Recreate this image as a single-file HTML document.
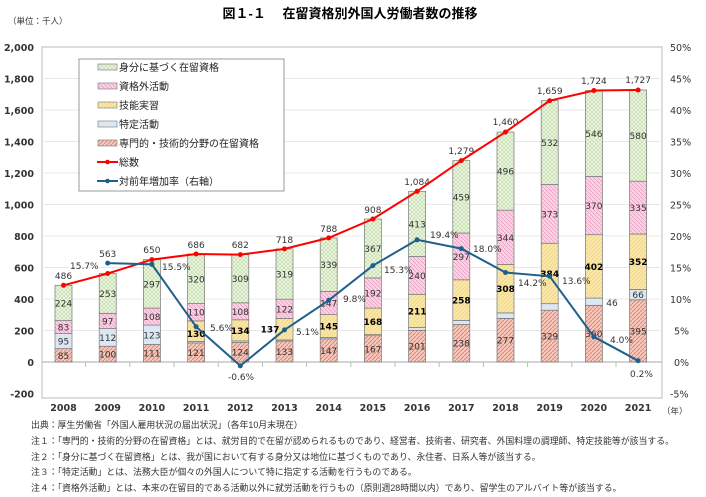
<!DOCTYPE html>
<html><head><meta charset="utf-8"><style>
body{margin:0;background:#fff}
svg{display:block;font-family:"DejaVu Sans","Liberation Sans","Noto Sans CJK JP",sans-serif}
.jp{font-family:"Liberation Sans","Noto Sans CJK JP",sans-serif}
.dl{font-size:9px;fill:#333;text-anchor:middle}
.db{font-size:9px;fill:#000;text-anchor:middle;font-weight:bold}
.tl{font-size:9px;fill:#333;text-anchor:middle}
</style></head><body>
<svg width="706" height="497" viewBox="0 0 706 497" xmlns="http://www.w3.org/2000/svg">
<defs>
<pattern id="pA" width="4" height="4" patternUnits="userSpaceOnUse"><rect width="4" height="4" fill="#f6c7bb"/><path d="M0,4L4,0" stroke="#e57a6a" stroke-width="0.8"/></pattern>
<pattern id="pB" width="4" height="4" patternUnits="userSpaceOnUse"><rect width="4" height="4" fill="#dbe7f3"/></pattern>
<pattern id="pC" width="4" height="4" patternUnits="userSpaceOnUse"><rect width="4" height="4" fill="#fbe6a6"/><path d="M0,4L4,0" stroke="#f2cf6a" stroke-width="0.6"/></pattern>
<pattern id="pD" width="4" height="4" patternUnits="userSpaceOnUse"><rect width="4" height="4" fill="#f8d3e3"/><path d="M0,0L4,4" stroke="#e79ac0" stroke-width="0.7"/></pattern>
<pattern id="pE" width="4" height="4" patternUnits="userSpaceOnUse"><rect width="4" height="4" fill="#eef6e4"/><path d="M0,0L4,4M0,4L4,0" stroke="#b9d8a0" stroke-width="0.6"/></pattern>
</defs>
<text x="350" y="18" class="jp" font-size="13" font-weight="bold" text-anchor="middle" fill="#000">図１-１　 在留資格別外国人労働者数の推移</text>
<text x="8" y="24" class="jp" font-size="8.5" fill="#333">（単位：千人）</text>
<rect x="42" y="47" width="620" height="351" fill="none" stroke="#bbb" stroke-width="1"/>
<g stroke="#e8e8e8" stroke-width="1">
<line x1="42" x2="662" y1="78.5" y2="78.5"/><line x1="42" x2="662" y1="110" y2="110"/><line x1="42" x2="662" y1="141.5" y2="141.5"/><line x1="42" x2="662" y1="173" y2="173"/><line x1="42" x2="662" y1="204.5" y2="204.5"/><line x1="42" x2="662" y1="236" y2="236"/><line x1="42" x2="662" y1="267.5" y2="267.5"/><line x1="42" x2="662" y1="299" y2="299"/><line x1="42" x2="662" y1="330.5" y2="330.5"/>
</g>
<line x1="42" x2="662" y1="362" y2="362" stroke="#aaa"/>
<g stroke="#bbb"><line x1="85.6" x2="85.6" y1="362" y2="367"/><line x1="129.8" x2="129.8" y1="362" y2="367"/><line x1="174" x2="174" y1="362" y2="367"/><line x1="218.2" x2="218.2" y1="362" y2="367"/><line x1="262.4" x2="262.4" y1="362" y2="367"/><line x1="306.6" x2="306.6" y1="362" y2="367"/><line x1="350.8" x2="350.8" y1="362" y2="367"/><line x1="395" x2="395" y1="362" y2="367"/><line x1="439.2" x2="439.2" y1="362" y2="367"/><line x1="483.4" x2="483.4" y1="362" y2="367"/><line x1="527.6" x2="527.6" y1="362" y2="367"/><line x1="571.8" x2="571.8" y1="362" y2="367"/><line x1="616" x2="616" y1="362" y2="367"/></g>
<g font-size="9.5" font-weight="bold" fill="#333" text-anchor="end">
<text x="34" y="51">2,000</text><text x="34" y="82.5">1,800</text><text x="34" y="114">1,600</text><text x="34" y="145.5">1,400</text><text x="34" y="177">1,200</text><text x="34" y="208.5">1,000</text><text x="34" y="240">800</text><text x="34" y="271.5">600</text><text x="34" y="303">400</text><text x="34" y="334.5">200</text><text x="34" y="366">0</text><text x="34" y="397.5">-200</text>
</g>
<g font-size="9.5" fill="#333">
<text x="670" y="51">50%</text><text x="670" y="82.5">45%</text><text x="670" y="114">40%</text><text x="670" y="145.5">35%</text><text x="670" y="177">30%</text><text x="670" y="208.5">25%</text><text x="670" y="240">20%</text><text x="670" y="271.5">15%</text><text x="670" y="303">10%</text><text x="674" y="334.5">5%</text><text x="674" y="366">0%</text><text x="670" y="397.5">-5%</text>
</g>
<g font-size="9.5" font-weight="bold" fill="#333" text-anchor="middle">
<text x="63.5" y="411">2008</text><text x="107.7" y="411">2009</text><text x="151.9" y="411">2010</text><text x="196.1" y="411">2011</text><text x="240.3" y="411">2012</text><text x="284.5" y="411">2013</text><text x="328.7" y="411">2014</text><text x="372.9" y="411">2015</text><text x="417.1" y="411">2016</text><text x="461.3" y="411">2017</text><text x="505.5" y="411">2018</text><text x="549.7" y="411">2019</text><text x="593.9" y="411">2020</text><text x="638.1" y="411">2021</text>
</g>
<text x="662" y="414" class="jp" font-size="8.5" fill="#333">（年）</text>
<g stroke="#777" stroke-width="0.7">
<rect x="55" y="348.6" width="17" height="13.4" fill="url(#pA)"/><rect x="55" y="333.65" width="17" height="14.95" fill="url(#pB)"/><rect x="55" y="320.6" width="17" height="13.05" fill="url(#pD)"/><rect x="55" y="285.3" width="17" height="35.3" fill="url(#pE)"/>
<rect x="99.2" y="346.25" width="17" height="15.75" fill="url(#pA)"/><rect x="99.2" y="328.6" width="17" height="17.65" fill="url(#pB)"/><rect x="99.2" y="313.3" width="17" height="15.3" fill="url(#pD)"/><rect x="99.2" y="273.5" width="17" height="39.8" fill="url(#pE)"/>
<rect x="143.4" y="344.5" width="17" height="17.5" fill="url(#pA)"/><rect x="143.4" y="325.1" width="17" height="19.4" fill="url(#pB)"/><rect x="143.4" y="308.1" width="17" height="17" fill="url(#pD)"/><rect x="143.4" y="259.6" width="17" height="48.5" fill="url(#pE)"/>
<rect x="187.6" y="342.9" width="17" height="19.1" fill="url(#pA)"/><rect x="187.6" y="341.4" width="17" height="1.5" fill="url(#pB)"/><rect x="187.6" y="320.9" width="17" height="20.5" fill="url(#pC)"/><rect x="187.6" y="303.6" width="17" height="17.3" fill="url(#pD)"/><rect x="187.6" y="253.95" width="17" height="49.65" fill="url(#pE)"/>
<rect x="231.8" y="342.5" width="17" height="19.5" fill="url(#pA)"/><rect x="231.8" y="340.9" width="17" height="1.6" fill="url(#pB)"/><rect x="231.8" y="319.8" width="17" height="21.1" fill="url(#pC)"/><rect x="231.8" y="302.8" width="17" height="17" fill="url(#pD)"/><rect x="231.8" y="254.6" width="17" height="48.2" fill="url(#pE)"/>
<rect x="276" y="341.05" width="17" height="20.95" fill="url(#pA)"/><rect x="276" y="339.95" width="17" height="1.1" fill="url(#pB)"/><rect x="276" y="318.4" width="17" height="21.55" fill="url(#pC)"/><rect x="276" y="299.2" width="17" height="19.2" fill="url(#pD)"/><rect x="276" y="248.9" width="17" height="50.3" fill="url(#pE)"/>
<rect x="320.2" y="338.85" width="17" height="23.15" fill="url(#pA)"/><rect x="320.2" y="337.4" width="17" height="1.45" fill="url(#pB)"/><rect x="320.2" y="314.6" width="17" height="22.8" fill="url(#pC)"/><rect x="320.2" y="291.4" width="17" height="23.2" fill="url(#pD)"/><rect x="320.2" y="237.9" width="17" height="53.5" fill="url(#pE)"/>
<rect x="364.4" y="335.7" width="17" height="26.3" fill="url(#pA)"/><rect x="364.4" y="334.6" width="17" height="1.1" fill="url(#pB)"/><rect x="364.4" y="308.1" width="17" height="26.5" fill="url(#pC)"/><rect x="364.4" y="277.9" width="17" height="30.2" fill="url(#pD)"/><rect x="364.4" y="219" width="17" height="58.9" fill="url(#pE)"/>
<rect x="408.6" y="330.3" width="17" height="31.7" fill="url(#pA)"/><rect x="408.6" y="327.5" width="17" height="2.8" fill="url(#pB)"/><rect x="408.6" y="294.3" width="17" height="33.2" fill="url(#pC)"/><rect x="408.6" y="256.5" width="17" height="37.8" fill="url(#pD)"/><rect x="408.6" y="191.3" width="17" height="65.2" fill="url(#pE)"/>
<rect x="452.8" y="324.5" width="17" height="37.5" fill="url(#pA)"/><rect x="452.8" y="320.4" width="17" height="4.1" fill="url(#pB)"/><rect x="452.8" y="279.8" width="17" height="40.6" fill="url(#pC)"/><rect x="452.8" y="233" width="17" height="46.8" fill="url(#pD)"/><rect x="452.8" y="160.6" width="17" height="72.4" fill="url(#pE)"/>
<rect x="497" y="318.4" width="17" height="43.6" fill="url(#pA)"/><rect x="497" y="312.9" width="17" height="5.5" fill="url(#pB)"/><rect x="497" y="264.35" width="17" height="48.55" fill="url(#pC)"/><rect x="497" y="210.2" width="17" height="54.15" fill="url(#pD)"/><rect x="497" y="132.05" width="17" height="78.15" fill="url(#pE)"/>
<rect x="541.2" y="310.2" width="17" height="51.8" fill="url(#pA)"/><rect x="541.2" y="303.7" width="17" height="6.5" fill="url(#pB)"/><rect x="541.2" y="243.25" width="17" height="60.45" fill="url(#pC)"/><rect x="541.2" y="184.5" width="17" height="58.75" fill="url(#pD)"/><rect x="541.2" y="100.7" width="17" height="83.8" fill="url(#pE)"/>
<rect x="585.4" y="305.3" width="17" height="56.7" fill="url(#pA)"/><rect x="585.4" y="298.05" width="17" height="7.25" fill="url(#pB)"/><rect x="585.4" y="234.7" width="17" height="63.35" fill="url(#pC)"/><rect x="585.4" y="176.5" width="17" height="58.2" fill="url(#pD)"/><rect x="585.4" y="90.5" width="17" height="86" fill="url(#pE)"/>
<rect x="629.6" y="299.8" width="17" height="62.2" fill="url(#pA)"/><rect x="629.6" y="289.4" width="17" height="10.4" fill="url(#pB)"/><rect x="629.6" y="234" width="17" height="55.4" fill="url(#pC)"/><rect x="629.6" y="181.2" width="17" height="52.8" fill="url(#pD)"/><rect x="629.6" y="90" width="17" height="91.2" fill="url(#pE)"/>
</g>
<g class="dl">
<text x="63.5" y="358.8">85</text><text x="63.5" y="344.6">95</text><text x="63.5" y="330.6">83</text><text x="63.5" y="306.5">224</text>
<text x="107.7" y="357.6">100</text><text x="107.7" y="340.9">112</text><text x="107.7" y="324.5">97</text><text x="107.7" y="296.9">253</text>
<text x="151.9" y="356.7">111</text><text x="151.9" y="338.3">123</text><text x="151.9" y="320.1">108</text><text x="151.9" y="287.3">297</text>
<text x="196.1" y="355.9">121</text><text x="196.1" y="315.7">110</text><text x="196.1" y="282.3">320</text>
<text x="240.3" y="355.7">124</text><text x="240.3" y="314.8">108</text><text x="240.3" y="282.2">309</text>
<text x="284.5" y="355">133</text><text x="284.5" y="312.3">122</text><text x="284.5" y="277.5">319</text>
<text x="328.7" y="353.9">147</text><text x="328.7" y="306.5">147</text><text x="328.7" y="268.1">339</text>
<text x="372.9" y="352.3">167</text><text x="372.9" y="296.5">192</text><text x="372.9" y="252">367</text>
<text x="417.1" y="349.6">201</text><text x="417.1" y="278.9">240</text><text x="417.1" y="227.4">413</text>
<text x="461.3" y="346.7">238</text><text x="461.3" y="259.9">297</text><text x="461.3" y="200.3">459</text>
<text x="505.5" y="343.7">277</text><text x="505.5" y="240.8">344</text><text x="505.5" y="174.6">496</text>
<text x="549.7" y="339.6">329</text><text x="549.7" y="217.4">373</text><text x="549.7" y="146.1">532</text>
<text x="593.9" y="337.1">360</text><text x="612" y="306">46</text><text x="593.9" y="209.1">370</text><text x="593.9" y="137">546</text>
<text x="638.1" y="334.4">395</text><text x="638.1" y="298.1">66</text><text x="638.1" y="211.1">335</text><text x="638.1" y="139.1">580</text>
</g>
<g class="db">
<text x="196.1" y="337">130</text><text x="240.3" y="333.8">134</text><text x="270" y="332.6">137</text><text x="328.7" y="329.5">145</text><text x="372.9" y="324.8">168</text><text x="417.1" y="314.4">211</text><text x="461.3" y="303.6">258</text><text x="505.5" y="292.1">308</text><text x="549.7" y="277">384</text><text x="593.9" y="269.9">402</text><text x="638.1" y="265.2">352</text>
</g>
<g class="tl">
<text x="63.5" y="279">486</text><text x="107.7" y="257">563</text><text x="151.9" y="253">650</text><text x="196.1" y="248">686</text><text x="240.3" y="248">682</text><text x="284.5" y="243">718</text><text x="328.7" y="232">788</text><text x="372.9" y="213">908</text><text x="417.1" y="185">1,084</text><text x="461.3" y="154">1,279</text><text x="505.5" y="125">1,460</text><text x="549.7" y="94">1,659</text><text x="593.9" y="84">1,724</text><text x="638.1" y="83">1,727</text>
</g>
<polyline fill="none" stroke="#ff0000" stroke-width="2" points="63.5,285.3 107.7,273.5 151.9,259.6 196.1,253.95 240.3,254.6 284.5,248.9 328.7,237.9 372.9,219 417.1,191.3 461.3,160.6 505.5,132.05 549.7,100.7 593.9,90.5 638.1,90"/>
<g fill="#ff0000"><circle cx="63.5" cy="285.3" r="2.5"/><circle cx="107.7" cy="273.5" r="2.5"/><circle cx="151.9" cy="259.6" r="2.5"/><circle cx="196.1" cy="253.95" r="2.5"/><circle cx="240.3" cy="254.6" r="2.5"/><circle cx="284.5" cy="248.9" r="2.5"/><circle cx="328.7" cy="237.9" r="2.5"/><circle cx="372.9" cy="219" r="2.5"/><circle cx="417.1" cy="191.3" r="2.5"/><circle cx="461.3" cy="160.6" r="2.5"/><circle cx="505.5" cy="132.05" r="2.5"/><circle cx="549.7" cy="100.7" r="2.5"/><circle cx="593.9" cy="90.5" r="2.5"/><circle cx="638.1" cy="90" r="2.5"/></g>
<polyline fill="none" stroke="#1f5f8b" stroke-width="2" points="107.7,263.1 151.9,264.35 196.1,326.7 240.3,365.8 284.5,329.9 328.7,300.3 372.9,265.6 417.1,239.8 461.3,248.6 505.5,272.5 549.7,276.3 593.9,336.8 638.1,360.7"/>
<g fill="#1f5f8b"><circle cx="107.7" cy="263.1" r="2.5"/><circle cx="151.9" cy="264.35" r="2.5"/><circle cx="196.1" cy="326.7" r="2.5"/><circle cx="240.3" cy="365.8" r="2.5"/><circle cx="284.5" cy="329.9" r="2.5"/><circle cx="328.7" cy="300.3" r="2.5"/><circle cx="372.9" cy="265.6" r="2.5"/><circle cx="417.1" cy="239.8" r="2.5"/><circle cx="461.3" cy="248.6" r="2.5"/><circle cx="505.5" cy="272.5" r="2.5"/><circle cx="549.7" cy="276.3" r="2.5"/><circle cx="593.9" cy="336.8" r="2.5"/><circle cx="638.1" cy="360.7" r="2.5"/></g>
<g font-size="9" fill="#333">
<text x="70" y="269">15.7%</text><text x="162" y="270">15.5%</text><text x="210" y="331">5.6%</text><text x="228" y="380">-0.6%</text><text x="296" y="335">5.1%</text><text x="343" y="302">9.8%</text><text x="384" y="273">15.3%</text><text x="430" y="238">19.4%</text><text x="473" y="252">18.0%</text><text x="518" y="286">14.2%</text><text x="562" y="284">13.6%</text><text x="610" y="343">4.0%</text><text x="630" y="377">0.2%</text>
</g>
<rect x="79" y="59" width="205" height="132" fill="#fff" stroke="#999"/>
<g stroke="#888" stroke-width="0.7">
<rect x="98" y="64" width="19" height="6" fill="url(#pE)"/><rect x="98" y="83" width="19" height="6" fill="url(#pD)"/><rect x="98" y="102" width="19" height="6" fill="url(#pC)"/><rect x="98" y="121" width="19" height="6" fill="url(#pB)"/><rect x="98" y="140" width="19" height="6" fill="url(#pA)"/>
</g>
<line x1="97" x2="118" y1="162" y2="162" stroke="#ff0000" stroke-width="2"/><circle cx="107.5" cy="162" r="2.3" fill="#ff0000"/>
<line x1="97" x2="118" y1="181" y2="181" stroke="#1f5f8b" stroke-width="2"/><circle cx="107.5" cy="181" r="2.3" fill="#1f5f8b"/>
<g class="jp" font-size="10" fill="#222">
<text x="119" y="71">身分に基づく在留資格</text><text x="119" y="90">資格外活動</text><text x="119" y="109">技能実習</text><text x="119" y="128">特定活動</text><text x="119" y="147">専門的・技術的分野の在留資格</text><text x="119" y="166">総数</text><text x="119" y="185">対前年増加率（右軸）</text>
</g>
<g class="jp" font-size="8.9" fill="#333">
<text x="31" y="428">出典：厚生労働省「外国人雇用状況の届出状況」（各年10月末現在）</text>
<text x="31" y="444">注１：「専門的・技術的分野の在留資格」とは、就労目的で在留が認められるものであり、経営者、技術者、研究者、外国料理の調理師、特定技能等が該当する。</text>
<text x="31" y="460">注２：「身分に基づく在留資格」とは、我が国において有する身分又は地位に基づくものであり、永住者、日系人等が該当する。</text>
<text x="31" y="475">注３：「特定活動」とは、法務大臣が個々の外国人について特に指定する活動を行うものである。</text>
<text x="31" y="491">注４：「資格外活動」とは、本来の在留目的である活動以外に就労活動を行うもの（原則週28時間以内）であり、留学生のアルバイト等が該当する。</text>
</g>
</svg>
</body></html>
